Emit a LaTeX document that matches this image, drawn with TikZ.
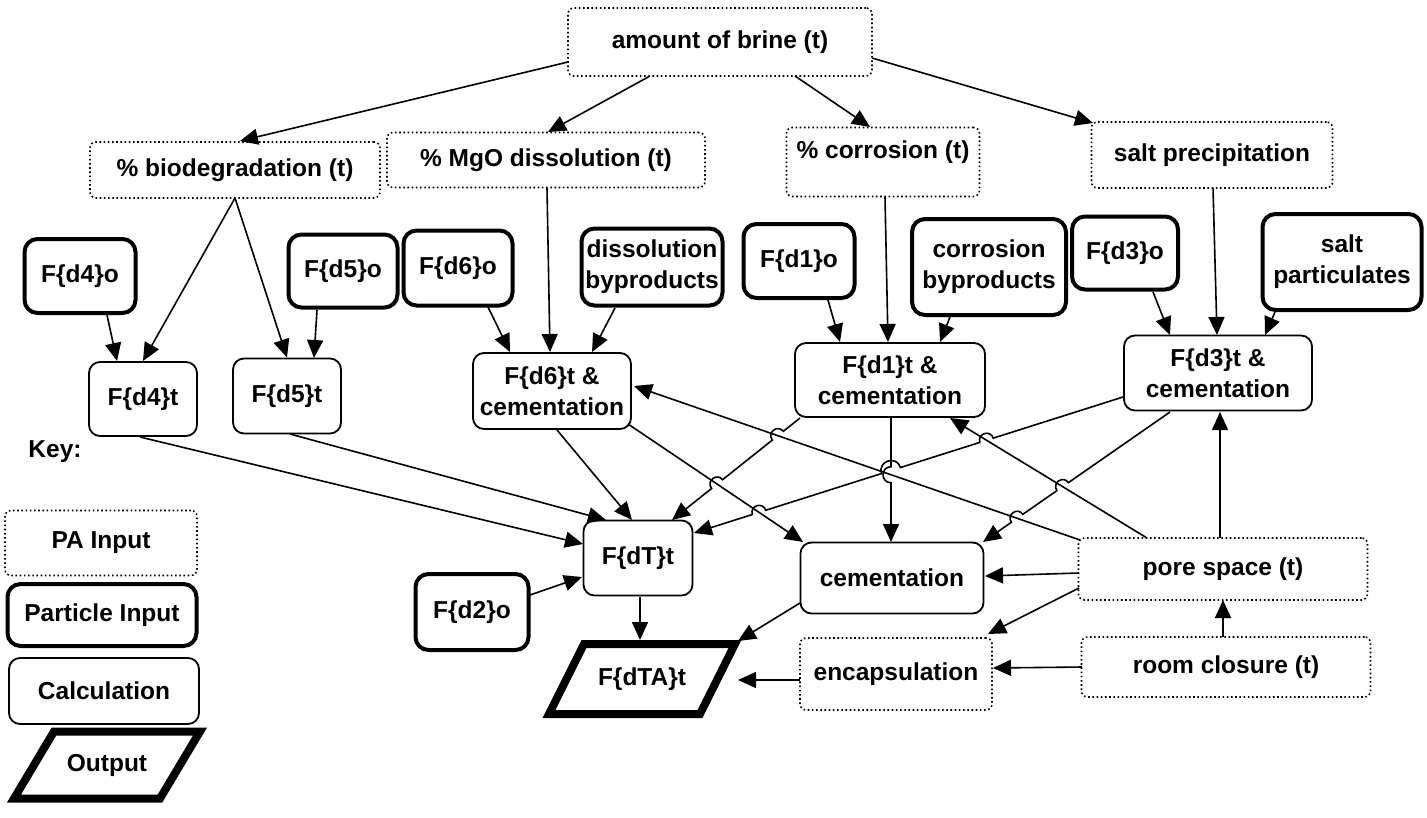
\documentclass[tikz,border=0pt]{standalone}
\usepackage{fontspec}
\setmainfont{Liberation Sans}
\usetikzlibrary{arrows.meta,calc,intersections}
\begin{document}
\begin{tikzpicture}[x=1pt,y=-1pt,
  base/.style={align=center,font=\fontsize{24.5}{31}\selectfont\bfseries,inner sep=2pt},
  pa/.style={base,draw,line width=1.6pt,dash pattern=on 1.6pt off 2.6pt,rounded corners=6pt},
  part/.style={base,draw,line width=4pt,rounded corners=13pt},
  calcbox/.style={base,draw,line width=1.8pt,rounded corners=11pt},
  frame/.style={line width=8pt,line join=miter},
  arr/.style={line width=1.6pt,-{Triangle[length=18pt,width=16pt]}},
  hop/.style={bend right=90,looseness=1.7},
]
\useasboundingbox (0,0) rectangle (1427,817);
\fill[white] (0,0) rectangle (1427,817);

% PA inputs
\node[pa,minimum width=304,minimum height=68] (brine) at (720,42) {amount of brine (t)};
\node[pa,minimum width=290,minimum height=56] (bio) at (235,170) {\% biodegradation (t)};
\node[pa,minimum width=318,minimum height=55] (mgo) at (546,160) {\% MgO dissolution (t)};
\node[pa,minimum width=193,minimum height=69] (cor) at (883,162) {\raisebox{10pt}[\height][\depth]{\% corrosion (t)}};
\node[pa,minimum width=241,minimum height=66] (saltp) at (1212,155) {salt precipitation};
\node[pa,minimum width=289,minimum height=62] (pore) at (1223,569) {pore space (t)};
\node[pa,minimum width=289,minimum height=60] (room) at (1226,667) {room closure (t)};
\node[pa,minimum width=192,minimum height=72] (enc) at (896,674) {encapsulation};

% particle inputs
\node[part,minimum width=111,minimum height=74] (d4o) at (80,276) {F\{d4\}o};
\node[part,minimum width=109,minimum height=73] (d5o) at (343,271) {F\{d5\}o};
\node[part,minimum width=109,minimum height=75] (d6o) at (458,268) {F\{d6\}o};
\node[part,minimum width=141,minimum height=77] (dbp) at (652,267) {dissolution\\byproducts};
\node[part,minimum width=111,minimum height=74] (d1o) at (799,261) {F\{d1\}o};
\node[part,minimum width=154,minimum height=96] (cbp) at (989,267) {corrosion\\byproducts};
\node[part,minimum width=106,minimum height=73] (d3o) at (1125,253) {F\{d3\}o};
\node[part,minimum width=159,minimum height=96] (sp) at (1342,262) {salt\\particulates};
\node[part,minimum width=113,minimum height=76] (d2o) at (472,612) {F\{d2\}o};

% calculations
\node[calcbox,minimum width=108,minimum height=74] (d4t) at (143,399) {F\{d4\}t};
\node[calcbox,minimum width=108,minimum height=75] (d5t) at (287,396) {F\{d5\}t};
\node[calcbox,minimum width=158,minimum height=76] (d6t) at (552,391) {F\{d6\}t \&\\cementation};
\node[calcbox,minimum width=190,minimum height=74] (d1t) at (890,380) {F\{d1\}t \&\\cementation};
\node[calcbox,minimum width=188,minimum height=75] (d3t) at (1218,373) {F\{d3\}t \&\\cementation};
\node[calcbox,minimum width=109,minimum height=75] (dT) at (638,558) {F\{dT\}t};
\node[calcbox,minimum width=183,minimum height=71] (cem) at (892,578) {cementation};

% output
\node[base] (dTA) at (642,679) {F\{dTA\}t};
\draw[frame] ($(dTA)+(-58,-35)$) -- ($(dTA)+(93,-35)$) -- ($(dTA)+(58,35)$) -- ($(dTA)+(-93,35)$) -- cycle;

% key
\node[base] (key) at (55,452) {Key:};
\node[pa,minimum width=192,minimum height=65] (kpa) at (101,543) {PA Input};
\node[part,minimum width=189,minimum height=62] (kpart) at (102,615) {Particle Input};
\node[calcbox,minimum width=190,minimum height=66] (kcalc) at (104,691) {Calculation};
\node[base] (kout) at (107,765) {Output};
\draw[frame] ($(kout)+(-53,-33.5)$) -- ($(kout)+(93,-33.5)$) -- ($(kout)+(53,33.5)$) -- ($(kout)+(-93,33.5)$) -- cycle;

% top connectors
\draw[arr] ($(brine)+(-152,20)$) -- ($(bio)+(5,-29)$);
\draw[arr] ($(brine)+(-70,34)$) -- ($(mgo)+(2,-28)$);
\draw[arr] ($(brine)+(75,34)$) -- ($(cor)+(-13,-35)$);
\draw[arr] ($(brine)+(152,16)$) -- ($(saltp)+(-119,-32)$);
\draw[arr] ($(bio)+(0,28)$) -- ($(d4t)+(0,-38)$);
\draw[arr] ($(bio)+(0,28)$) -- ($(d5t)+(0,-38.5)$);
\draw[arr] ($(d4o)+(27,39)$) -- ($(d4t)+(-26,-38)$);
\draw[arr] ($(d5o)+(-26,39)$) -- ($(d5t)+(27,-38)$);
\draw[arr] ($(d6o)+(30,39)$) -- ($(d6t)+(-42,-39)$);
\draw[arr] ($(mgo)+(1,28)$) -- ($(d6t)+(-2,-39)$);
\draw[arr] ($(dbp)+(-37,41)$) -- ($(d6t)+(40,-39)$);
\draw[arr] ($(d1o)+(29,39)$) -- ($(d1t)+(-50,-38)$);
\draw[arr] ($(cor)+(2,35)$) -- ($(d1t)+(-2,-38)$);
\draw[arr] ($(cbp)+(-39,50)$) -- ($(d1t)+(50,-38)$);
\draw[arr] ($(d3o)+(28,39)$) -- ($(d3t)+(-48,-38)$);
\draw[arr] ($(saltp)+(1,33)$) -- ($(d3t)+(-1,-38)$);
\draw[arr] ($(sp)+(-67,50)$) -- ($(d3t)+(47,-38)$);

% middle connectors
\draw[arr] ($(d4t)+(-3,38)$) -- ($(dT)+(-55,-14)$);
\draw[arr] ($(d5t)+(3,38)$) -- ($(dT)+(-32,-38)$);
\draw[arr] ($(d6t)+(5,39)$) -- ($(dT)+(-6,-38)$);

\coordinate (d6c-a) at ($(d6t)+(76,33)$);  \coordinate (d6c-b) at ($(cem)+(-89,-36)$);
\coordinate (d1T-a) at ($(d1t)+(-90,38)$); \coordinate (d1T-b) at ($(dT)+(34,-38)$);
\coordinate (d1c-a) at ($(d1t)+(1,38)$);   \coordinate (d1c-b) at ($(cem)+(-1,-36)$);
\coordinate (d3T-a) at ($(d3t)+(-95,24)$); \coordinate (d3T-b) at ($(dT)+(56,-25)$);
\coordinate (d3c-a) at ($(d3t)+(-48,39)$); \coordinate (d3c-b) at ($(cem)+(91,-36)$);
\coordinate (pd6-a) at ($(pore)+(-143,-29)$); \coordinate (pd6-b) at ($(d6t)+(82,-5)$);
\coordinate (pd1-a) at ($(pore)+(-76,-31)$);  \coordinate (pd1-b) at ($(d1t)+(60,38)$);

\path[name path=pd6] (pd6-a) -- (pd6-b);
\path[name path=pd1] (pd1-a) -- (pd1-b);
\path[name path=d6c] (d6c-a) -- (d6c-b);
\path[name path=d1T] (d1T-a) -- (d1T-b);
\path[name path=d3T] (d3T-a) -- (d3T-b);
\path[name path=d3c] (d3c-a) -- (d3c-b);
\path[name path=d1c] (d1c-a) -- (d1c-b);
\path[name intersections={of=d1T and pd6,by=h1}];
\path[name intersections={of=d1T and d6c,by=h2}];
\path[name intersections={of=d3T and pd1,by=h3}];
\path[name intersections={of=d3T and d1c,by=h4}];
\path[name intersections={of=d3T and d6c,by=h5}];
\path[name intersections={of=d3c and pd1,by=h6}];
\path[name intersections={of=d3c and pd6,by=h7}];
\path[name intersections={of=d1c and pd6,by=h8}];

% plain crossed lines
\draw[arr] (d6c-a) -- (d6c-b);
\draw[arr] (pd6-a) -- (pd6-b);
\draw[arr] (pd1-a) -- (pd1-b);

% lines with hops
\draw[arr] (d1T-a) -- ($(h1)!7pt!(d1T-a)$) to[hop] ($(h1)!7pt!(d1T-b)$)
  -- ($(h2)!7pt!(d1T-a)$) to[hop] ($(h2)!7pt!(d1T-b)$) -- (d1T-b);
\draw[arr] (d3T-a) -- ($(h3)!7pt!(d3T-a)$) to[hop] ($(h3)!7pt!(d3T-b)$)
  -- ($(h4)!10pt!(d3T-a)$) to[hop] ($(h4)!10pt!(d3T-b)$)
  -- ($(h5)!7pt!(d3T-a)$) to[hop] ($(h5)!7pt!(d3T-b)$) -- (d3T-b);
\draw[arr] (d3c-a) -- ($(h6)!7pt!(d3c-a)$) to[hop] ($(h6)!7pt!(d3c-b)$)
  -- ($(h7)!7pt!(d3c-a)$) to[hop] ($(h7)!7pt!(d3c-b)$) -- (d3c-b);
\draw[arr] (d1c-a) -- ($(h8)!8pt!(d1c-a)$) to[hop] ($(h8)!8pt!(d1c-b)$) -- (d1c-b);

% lower connectors
\draw[arr] ($(pore)+(-3,-31)$) -- ($(d3t)+(2,39)$);
\draw[arr] ($(pore)+(-144,4)$) -- ($(cem)+(93,-2)$);
\draw[arr] ($(pore)+(-144,19)$) -- ($(enc)+(92,-40)$);
\draw[arr] ($(room)+(-3,-30)$) -- ($(pore)+(0,31)$);
\draw[arr] ($(room)+(-144,0)$) -- ($(enc)+(97,-6)$);
\draw[arr] ($(enc)+(-96,6)$) -- ($(dTA)+(96,1)$);
\draw[arr] ($(cem)+(-92,25)$) -- ($(dTA)+(96,-38)$);
\draw[arr] ($(dT)+(2,39)$) -- ($(dTA)+(-2,-39)$);
\draw[arr] ($(d2o)+(58,-17)$) -- ($(dT)+(-56,19)$);
\end{tikzpicture}
\end{document}
